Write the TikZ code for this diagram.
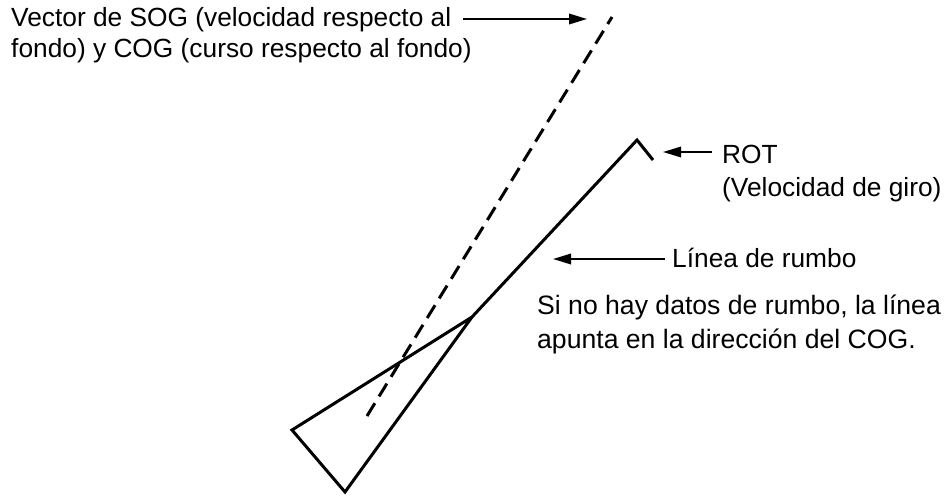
\documentclass[tikz,border=0pt]{standalone}
\usepackage{fontspec}
\setmainfont{Liberation Sans}
\usetikzlibrary{arrows.meta}

\begin{document}
\begin{tikzpicture}[x=1pt,y=-1pt,
		lbl/.style={anchor=base west,inner sep=0pt,font=\fontsize{26.3}{31}\selectfont},
		notelbl/.style={lbl,font=\fontsize{26.6}{34}\selectfont},
		ship/.style={line width=3pt,line join=miter},
		cogvec/.style={line width=3pt,dash pattern=on 15pt off 8pt},
		ptr/.style={line width=1.8pt,-{Triangle[length=18pt,width=10.5pt]}}]
		\useasboundingbox (0,0) rectangle (949,495);
		\coordinate (sternL) at (292,430);
		\coordinate (sternR) at (345,492);
		\coordinate (bow) at (472,317);
		\coordinate (hdgtip) at (637,140);
		\coordinate (rotend) at (653,160);
		\coordinate (sogbase) at (367,416);
		\coordinate (sogtip) at (612,17);
		\coordinate (sogarr) at (587,19);
		\coordinate (rotarr) at (663,152);
		\coordinate (hdgarr) at (553,259);
		\draw[cogvec] (sogbase) -- (sogtip);
		\draw[ship] (bow) -- (sternL) -- (sternR) -- (bow) -- (hdgtip) -- (rotend);
		\node[lbl] (sog1) at (11,27) {Vector de SOG (velocidad respecto al};
		\node[lbl] (sog2) at (11,57) {fondo) y COG (curso respecto al fondo)};
		\node[lbl] (rot1) at (722,163) {ROT};
		\node[lbl] (rot2) at (722,196) {(Velocidad de giro)};
		\node[lbl] (hdg) at (672,267) {Línea de rumbo};
		\node[notelbl] (note1) at (537,314) {Si no hay datos de rumbo, la línea};
		\node[notelbl] (note2) at (537,348) {apunta en la dirección del COG.};
		\draw[ptr] ([xshift=12pt]sog1.east |- sogarr) -- (sogarr);
		\draw[ptr] ([xshift=-10pt]rot1.west |- rotarr) -- (rotarr);
		\draw[ptr] ([xshift=-7pt]hdg.west |- hdgarr) -- (hdgarr);
	\end{tikzpicture}
\end{document}
